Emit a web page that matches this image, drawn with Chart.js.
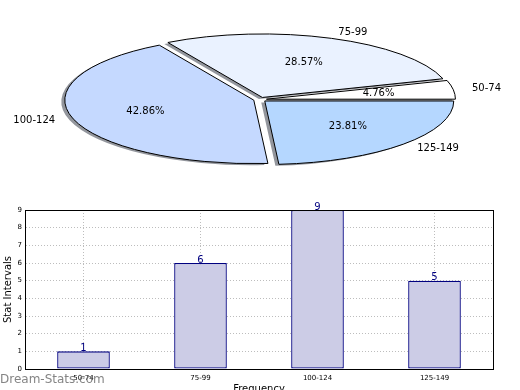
<!DOCTYPE html>
<html>
<head>
<meta charset="utf-8">
<script src="https://cdn.jsdelivr.net/npm/chart.js@4.4.1/dist/chart.umd.min.js"></script>
<style>
  html, body { margin: 0; padding: 0; background: #fff; overflow: hidden; }
  #pieChart { position: absolute; left: 0; top: 0; }
  #barChart { position: absolute; left: 0; top: 190px; }
</style>
</head>
<body>
<canvas id="pieChart" width="520" height="190"></canvas>
<canvas id="barChart" width="520" height="205"></canvas>
<script>
'use strict';

let categories = ['50-74', '75-99', '100-124', '125-149'];
let counts = [1, 6, 9, 5];
let sliceColors = ['#ffffff', '#eaf2ff', '#c5d9ff', '#b5d7ff'];
let yMax = 9;

let total = counts.reduce((a, b) => a + b, 0);
let percents = counts.map(c => (c / total * 100).toFixed(2) + '%');

Chart.defaults.font.family = "'DejaVu Sans', sans-serif";

// pie is drawn as a squashed circle, like the original
let squash = 0.336;
let explode = 6.5;
let pieCenterY = 99.5;

function pieCenter (chart) {
  let a = chart.chartArea;
  return { x: (a.left + a.right) / 2, y: (a.top + a.bottom) / 2 };
}

let flatPie = {
  id: 'flatPie',
  afterDatasetsUpdate (chart) {
    chart.getDatasetMeta(0).data.forEach(arc => {
      let mid = (arc.startAngle + arc.endAngle) / 2;
      arc.x += Math.cos(mid) * explode;
      arc.y += Math.sin(mid) * explode;
    });
  },
  beforeDatasetsDraw (chart) {
    let ctx = chart.ctx;
    let c = pieCenter(chart);
    let base = ctx.getTransform();
    ctx.save();
    ctx.translate(c.x, pieCenterY);
    ctx.scale(1, -squash);
    ctx.translate(-c.x, -c.y);
    // keep the outline 1px wide after squashing, and give it no shadow
    let stroke = ctx.stroke;
    ctx.stroke = function () {
      let m = this.getTransform();
      let sc = this.shadowColor;
      this.setTransform(base);
      this.shadowColor = 'rgba(0, 0, 0, 0)';
      stroke.call(this);
      this.shadowColor = sc;
      this.setTransform(m);
    };
    ctx.shadowColor = 'rgba(40, 45, 60, 0.5)';
    ctx.shadowOffsetX = -3.5;
    ctx.shadowOffsetY = 1.5;
    ctx.shadowBlur = 0;
  },
  afterDatasetsDraw (chart) {
    let ctx = chart.ctx;
    delete ctx.stroke;
    ctx.restore();

    let c = pieCenter(chart);
    let toScreen = (x, y) => [x, pieCenterY - squash * (y - c.y)];
    ctx.save();
    ctx.fillStyle = '#000';
    ctx.font = "10px 'DejaVu Sans'";
    ctx.textBaseline = 'middle';
    chart.getDatasetMeta(0).data.forEach((arc, i) => {
      let mid = (arc.startAngle + arc.endAngle) / 2;
      let r = arc.outerRadius;
      let p = toScreen(arc.x + Math.cos(mid) * r * 1.1, arc.y + Math.sin(mid) * r * 1.1);
      ctx.textAlign = Math.cos(mid) > 0 ? 'left' : 'right';
      ctx.fillText(categories[i], p[0], p[1]);
      let q = toScreen(arc.x + Math.cos(mid) * r * 0.6, arc.y + Math.sin(mid) * r * 0.6);
      ctx.textAlign = 'center';
      ctx.fillText(percents[i], q[0], q[1]);
    });
    ctx.restore();
  }
};

new Chart(document.getElementById('pieChart'), {
  type: 'pie',
  data: {
    labels: categories,
    datasets: [{
      data: counts,
      backgroundColor: sliceColors,
      borderColor: '#000',
      borderWidth: 1,
      hoverOffset: 0,
      clip: false
    }]
  },
  options: {
    responsive: false,
    animation: false,
    events: [],
    radius: 189,
    rotation: 90,
    layout: { padding: 0 },
    plugins: { legend: { display: false }, tooltip: { enabled: false } }
  },
  plugins: [flatPie]
});

let barExtras = {
  id: 'barExtras',
  afterDatasetsDraw (chart) {
    let ctx = chart.ctx;
    ctx.save();
    ctx.fillStyle = '#000080';
    ctx.font = "10px 'DejaVu Sans'";
    ctx.textAlign = 'center';
    ctx.textBaseline = 'alphabetic';
    chart.getDatasetMeta(0).data.forEach((bar, i) => {
      ctx.fillText(String(counts[i]), bar.x, bar.y - 0.5);
    });
    ctx.restore();
  },
  afterDraw (chart) {
    let ctx = chart.ctx;
    let a = chart.chartArea;
    ctx.save();
    ctx.strokeStyle = '#000';
    ctx.lineWidth = 1;
    ctx.strokeRect(Math.round(a.left) + 0.5, Math.round(a.top) + 0.5,
      Math.round(a.right - a.left), Math.round(a.bottom - a.top));
    ctx.fillStyle = 'rgba(110, 110, 110, 0.85)';
    ctx.font = "12px 'DejaVu Sans'";
    ctx.textAlign = 'left';
    ctx.fillText('Dream-Stats.com', 0, 192.5);
    ctx.restore();
  }
};

new Chart(document.getElementById('barChart'), {
  type: 'bar',
  data: {
    labels: categories,
    datasets: [{
      data: counts,
      backgroundColor: '#cccce6',
      borderColor: '#000080',
      borderWidth: 1.3,
      borderSkipped: false,
      barPercentage: 0.45,
      categoryPercentage: 1
    }]
  },
  options: {
    responsive: false,
    animation: false,
    events: [],
    layout: { padding: { top: 20, right: 27, left: 0, bottom: 0 } },
    plugins: { legend: { display: false }, tooltip: { enabled: false } },
    scales: {
      x: {
        grid: { offset: false, color: '#bdbdbd', drawTicks: false },
        border: { color: '#000', dash: [1, 2] },
        ticks: { color: '#000', font: { size: 7 }, padding: 5, maxRotation: 0, autoSkip: false },
        title: { display: true, text: 'Frequency', color: '#000', font: { size: 10 }, padding: 0 },
        afterFit (s) { s.height = 26; }
      },
      y: {
        min: 0,
        max: yMax,
        grid: { color: '#bdbdbd', drawTicks: false },
        border: { color: '#000', dash: [1, 2] },
        ticks: { stepSize: 1, color: '#000', font: { size: 7 }, padding: 3 },
        title: { display: true, text: 'Stat Intervals', color: '#000', font: { size: 10 }, padding: { top: 2, bottom: 0 } },
        afterFit (s) { s.width = 25; }
      }
    }
  },
  plugins: [barExtras]
});
</script>
</body>
</html>
